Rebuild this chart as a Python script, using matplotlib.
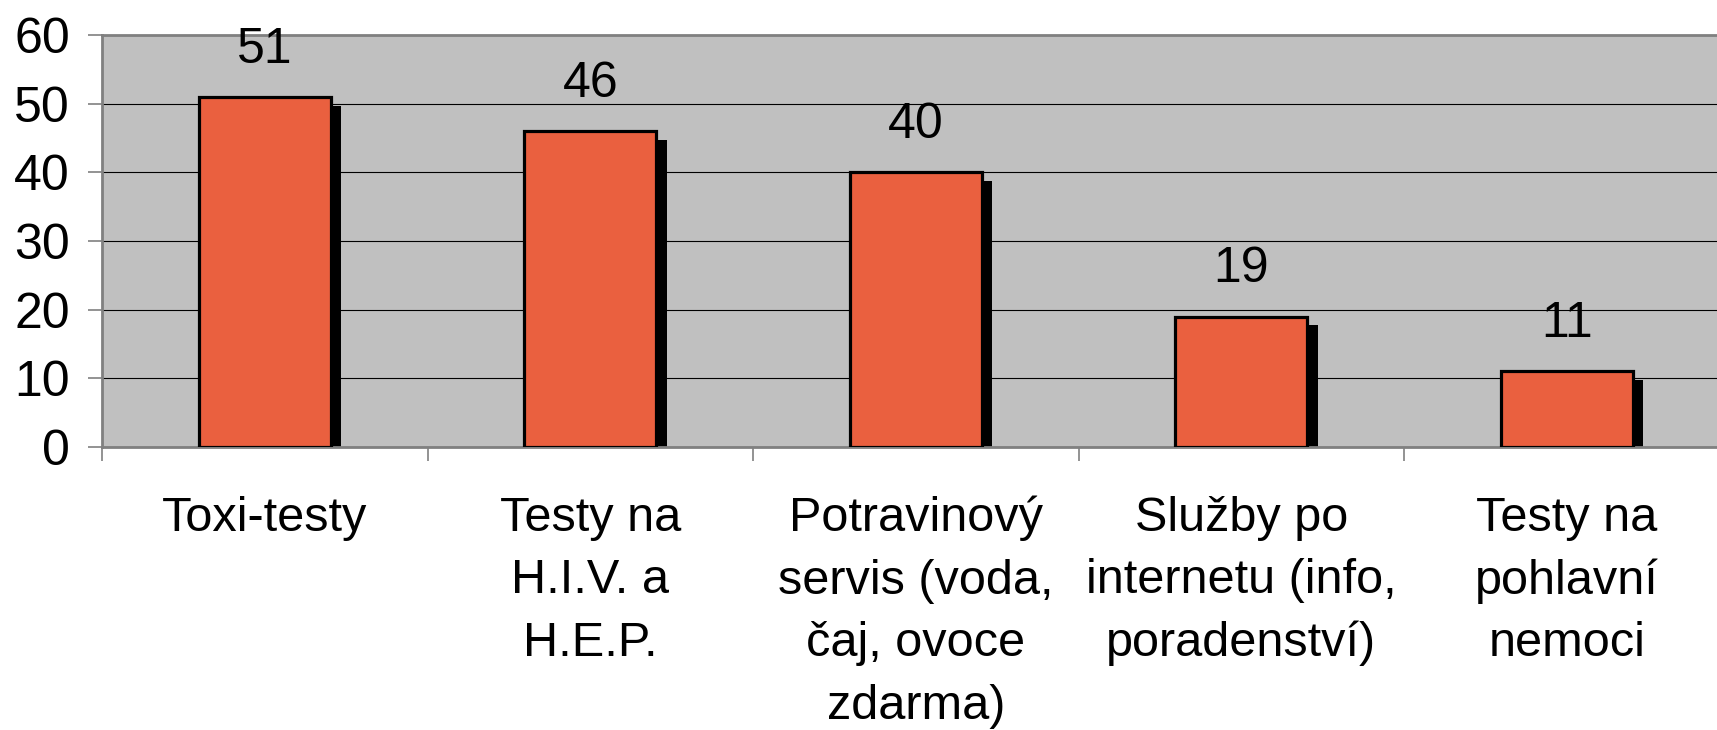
import numpy as np
import matplotlib.pyplot as plt
from matplotlib.ticker import FixedLocator

kategorie = ["Toxi-testy", "Testy na\nH.I.V. a\nH.E.P.",
             "Potravinový\nservis (voda,\nčaj, ovoce\nzdarma)",
             "Služby po\ninternetu (info,\nporadenství)",
             "Testy na\npohlavní\nnemoci"]
hodnoty = [51, 46, 40, 19, 11]
y_ticks = [0, 10, 20, 30, 40, 50, 60]

plt.rcParams['font.family'] = ['Liberation Sans', 'DejaVu Sans']

fig = plt.figure(figsize=(17.17, 7.3), dpi=100)
# plot area runs past the right edge of the picture, as in the original
ax = fig.add_axes([102 / 1717, 283 / 730, 1627.5 / 1717, 412 / 730])
ax.set_facecolor("#C0C0C0")

x = np.arange(len(hodnoty))
sirka = 0.405

# black drop shadow, shifted right and down
ax.bar(x + 0.033, np.array(hodnoty) - 1.3, width=sirka, color="black",
       linewidth=0, zorder=2)
bars = ax.bar(x, hodnoty, width=sirka, color="#EA603F", edgecolor="black",
              linewidth=2.3, zorder=3)

for b, v in zip(bars, hodnoty):
    ax.annotate(str(v), (b.get_x() + b.get_width() / 2, v),
                xytext=(0, 34), textcoords="offset points",
                ha="center", va="center", fontsize=36)

ax.set_xlim(-0.5, len(hodnoty) - 0.5)
ax.set_ylim(0, 60)
ax.set_yticks(y_ticks)
ax.tick_params(axis="y", labelsize=36, length=10, width=1.2, color="#808080", pad=13)
ax.set_xticks(x)
ax.set_xticklabels(kategorie, fontsize=35, linespacing=1.5)
ax.tick_params(axis="x", which="major", length=0, pad=35)
ax.xaxis.set_minor_locator(FixedLocator(np.arange(len(hodnoty) + 1) - 0.5))
ax.tick_params(axis="x", which="minor", length=10, width=1.2, color="#808080")

ax.yaxis.grid(True, color="black", linewidth=0.8)
ax.set_axisbelow(True)
for s in ax.spines.values():
    s.set_color("#808080")
    s.set_linewidth(2)

fig.savefig("out.png", dpi=100)
